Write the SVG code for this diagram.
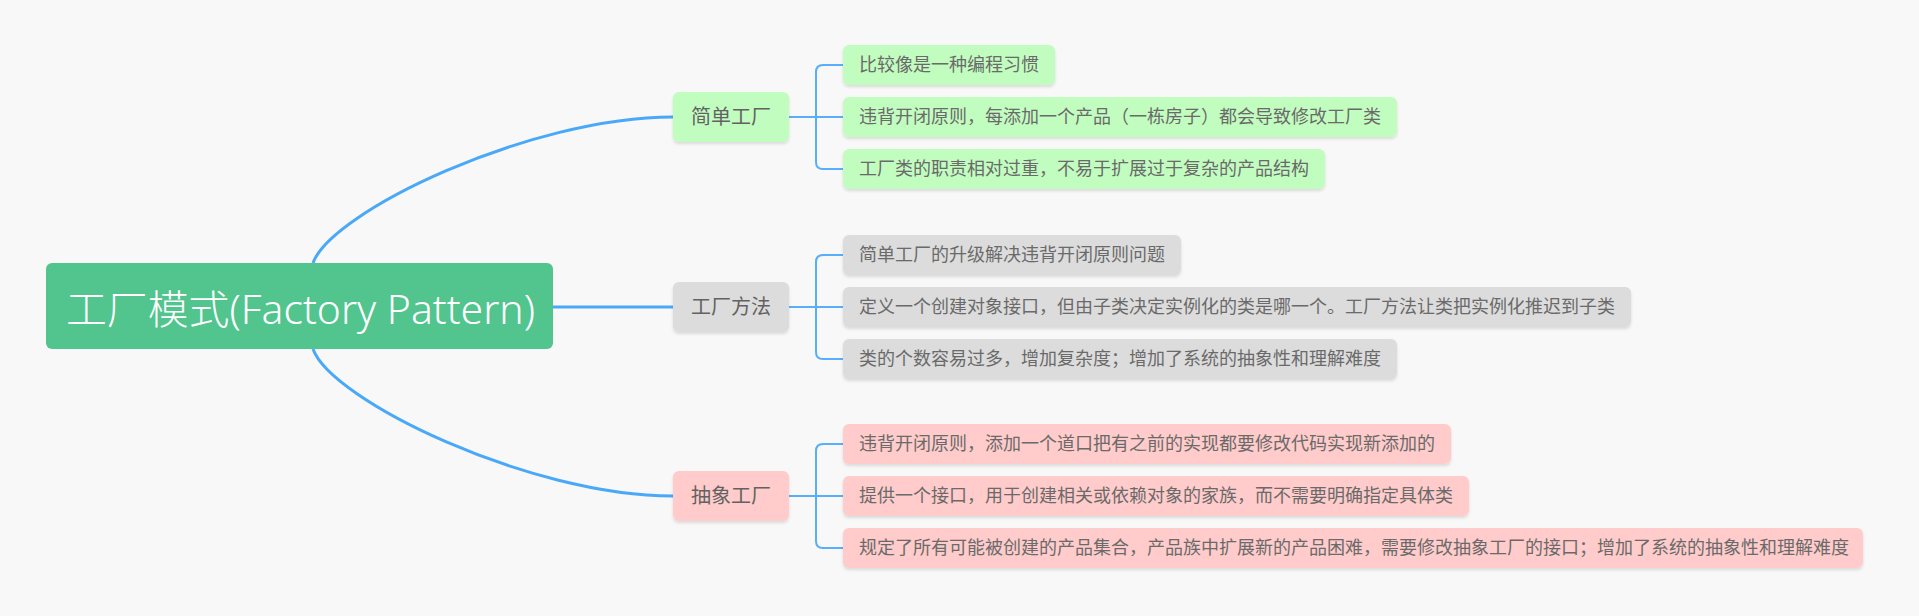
<svg xmlns="http://www.w3.org/2000/svg" width="1919" height="616" viewBox="0 0 1919 616">
<defs>
<filter id="sh" x="-5%" y="-20%" width="110%" height="150%">
<feDropShadow dx="0" dy="2" stdDeviation="1.5" flood-color="#000" flood-opacity="0.12"/>
</filter>
<style>
.root{fill:#52C48E}
.rt{font-family:"Noto Sans","Noto Sans CJK SC",sans-serif;font-size:40px;font-weight:300;fill:#fff}
.g{fill:#C2FDC0}
.gr{fill:#DCDCDC}
.p{fill:#FFCCCB}
.st{font-family:"Noto Sans CJK SC","Noto Sans",sans-serif;font-size:20px;font-weight:400;fill:#626262;text-anchor:middle}
.lt{font-family:"Noto Sans CJK SC","Noto Sans",sans-serif;font-size:18px;font-weight:400;fill:#6a6a6a}
.main{fill:none;stroke:#4AA8F8;stroke-width:3}
.br{fill:none;stroke:#58AEF8;stroke-width:2}
</style>
</defs>
<rect width="1919" height="616" fill="#F8F8F8"/>
<g id="connectors">
<path class="main" d="M313 263 C331 212 529 117 673 117"/>
<path class="main" d="M313 349 C331 400 529 496 673 496"/>
<path class="main" d="M553 307 H673"/>
<path class="br" d="M789 117 H843 M843 65 H823 Q816 65 816 72 V162 Q816 169 823 169 H843"/>
<path class="br" d="M789 307 H843 M843 255 H823 Q816 255 816 262 V352 Q816 359 823 359 H843"/>
<path class="br" d="M789 496 H843 M843 444 H823 Q816 444 816 451 V541 Q816 548 823 548 H843"/>
</g>
<g id="root">
<rect class="root" x="46" y="263" width="507" height="86" rx="6"/>
<text class="rt" x="66" y="324" textLength="469" lengthAdjust="spacingAndGlyphs">工厂模式(Factory Pattern)</text>
</g>
<g id="n-simple">
<rect class="g" x="673" y="92" width="116" height="50" rx="6" filter="url(#sh)"/>
<text class="st" x="731" y="124">简单工厂</text>
</g>
<g id="n-method">
<rect class="gr" x="673" y="282" width="116" height="50" rx="6" filter="url(#sh)"/>
<text class="st" x="731" y="314">工厂方法</text>
</g>
<g id="n-abstract">
<rect class="p" x="673" y="471" width="116" height="50" rx="6" filter="url(#sh)"/>
<text class="st" x="731" y="503">抽象工厂</text>
</g>
<g id="l-s1">
<rect class="g" x="843" y="45" width="212" height="40" rx="6" filter="url(#sh)"/>
<text class="lt" x="859" y="71">比较像是一种编程习惯</text>
</g>
<g id="l-s2">
<rect class="g" x="843" y="97" width="554" height="40" rx="6" filter="url(#sh)"/>
<text class="lt" x="859" y="123">违背开闭原则，每添加一个产品（一栋房子）都会导致修改工厂类</text>
</g>
<g id="l-s3">
<rect class="g" x="843" y="149" width="482" height="40" rx="6" filter="url(#sh)"/>
<text class="lt" x="859" y="175">工厂类的职责相对过重，不易于扩展过于复杂的产品结构</text>
</g>
<g id="l-m1">
<rect class="gr" x="843" y="235" width="338" height="40" rx="6" filter="url(#sh)"/>
<text class="lt" x="859" y="261">简单工厂的升级解决违背开闭原则问题</text>
</g>
<g id="l-m2">
<rect class="gr" x="843" y="287" width="788" height="40" rx="6" filter="url(#sh)"/>
<text class="lt" x="859" y="313">定义一个创建对象接口，但由子类决定实例化的类是哪一个。工厂方法让类把实例化推迟到子类</text>
</g>
<g id="l-m3">
<rect class="gr" x="843" y="339" width="554" height="40" rx="6" filter="url(#sh)"/>
<text class="lt" x="859" y="365">类的个数容易过多，增加复杂度；增加了系统的抽象性和理解难度</text>
</g>
<g id="l-a1">
<rect class="p" x="843" y="424" width="608" height="40" rx="6" filter="url(#sh)"/>
<text class="lt" x="859" y="450">违背开闭原则，添加一个道口把有之前的实现都要修改代码实现新添加的</text>
</g>
<g id="l-a2">
<rect class="p" x="843" y="476" width="626" height="40" rx="6" filter="url(#sh)"/>
<text class="lt" x="859" y="502">提供一个接口，用于创建相关或依赖对象的家族，而不需要明确指定具体类</text>
</g>
<g id="l-a3">
<rect class="p" x="843" y="528" width="1020" height="40" rx="6" filter="url(#sh)"/>
<text class="lt" x="859" y="554">规定了所有可能被创建的产品集合，产品族中扩展新的产品困难，需要修改抽象工厂的接口；增加了系统的抽象性和理解难度</text>
</g>
</svg>
